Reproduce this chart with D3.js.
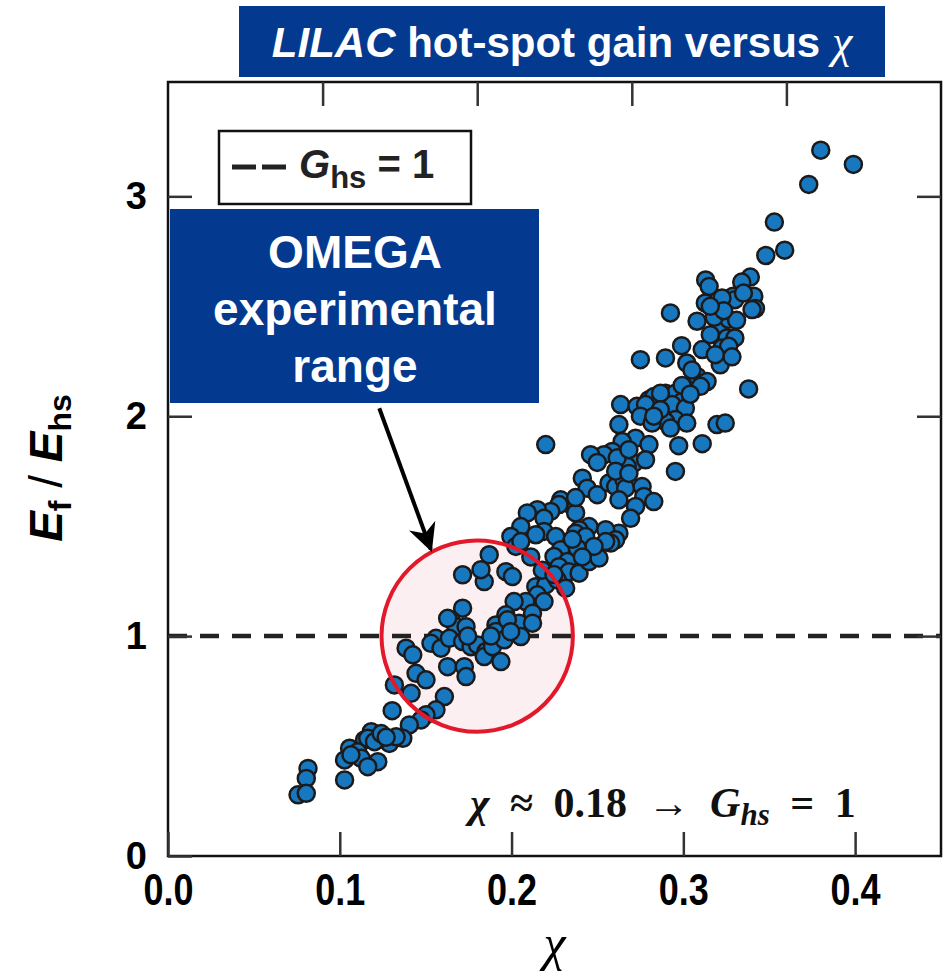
<!DOCTYPE html>
<html>
<head>
<meta charset="utf-8">
<script src="https://cdn.jsdelivr.net/npm/d3@7"></script>
<style>
  body { margin: 0; background: #fff; }
  svg { display: block; }
</style>
</head>
<body>
<div id="chart"></div>
<script>
// axis ticks
const chiTicks = [0.0, 0.1, 0.2, 0.3, 0.4];
const chiTopTicks = [0.09, 0.18, 0.27, 0.36];
const gainTicks = [0, 1, 2, 3];

// simulated LILAC shots: [chi, Ef/Ehs]
const shots = [
  [0.380,3.21],[0.399,3.145],[0.373,3.054],[0.353,2.883],[0.359,2.755],[0.348,2.731],
  [0.313,2.62],[0.315,2.59],[0.339,2.633],[0.334,2.61],[0.341,2.546],[0.342,2.49],[0.340,2.485],
  [0.329,2.546],[0.330,2.53],[0.3225,2.538],[0.3128,2.515],[0.2925,2.47],[0.308,2.432],
  [0.3206,2.417],[0.3264,2.44],[0.331,2.436],[0.3254,2.356],[0.330,2.356],[0.3157,2.371],
  [0.299,2.321],[0.311,2.303],[0.3225,2.31],[0.3264,2.318],[0.2896,2.265],[0.302,2.242],[0.275,2.257],
  [0.3215,2.234],[0.308,2.181],[0.3138,2.158],[0.310,2.136],[0.338,2.124],
  [0.2896,2.105],[0.2925,2.09],[0.2954,2.105],[0.2993,2.067],[0.2935,2.053],[0.3012,2.037],
  [0.276,2.045],[0.280,2.075],[0.283,2.09],[0.2954,1.985],[0.302,1.969],[0.2896,1.976],
  [0.3196,1.962],[0.3244,1.969],
  [0.2867,2.105],[0.2635,2.053],[0.273,2.045],[0.278,2.053],[0.275,2.0],[0.2818,1.969],[0.2625,1.962],
  [0.2925,1.946],[0.2973,1.866],[0.311,1.875],[0.2199,1.871],[0.2722,1.9],[0.280,1.871],[0.2644,1.885],
  [0.2586,1.84],[0.2538,1.825],[0.246,1.825],[0.2712,1.787],[0.2673,1.772],[0.278,1.802],[0.2954,1.749],
  [0.2412,1.718],[0.244,1.673],[0.2499,1.643],[0.2567,1.696],[0.2606,1.68],[0.2654,1.711],[0.2664,1.673],
  [0.2625,1.62],[0.276,1.68],[0.277,1.635],[0.2828,1.612],[0.2722,1.59],
  [0.2344,1.598],[0.2286,1.62],[0.2373,1.56],[0.2276,1.598],[0.2228,1.567],[0.215,1.575],[0.2092,1.56],[0.2189,1.536],
  [0.2693,1.536],[0.2625,1.468],[0.2548,1.484],[0.2606,1.438],[0.2577,1.423],
  [0.2451,1.498],[0.2393,1.484],[0.2373,1.468],[0.2431,1.453],
  [0.2189,1.476],[0.2141,1.461],[0.2257,1.453],
  [0.2054,1.498],[0.1996,1.453],[0.2025,1.408],[0.2054,1.43],
  [0.2286,1.393],[0.2247,1.362],[0.2325,1.339],[0.2276,1.316],[0.2334,1.293],[0.2393,1.286],
  [0.2451,1.339],[0.2509,1.355],[0.2548,1.43],[0.248,1.408],
  [0.187,1.37],[0.1967,1.293],[0.2005,1.271],[0.1841,1.248],
  [0.2141,1.225],[0.2199,1.233],[0.215,1.188],[0.2189,1.157],[0.2266,1.256],[0.2315,1.218],
  [0.2083,1.157],[0.2015,1.157],[0.2122,1.104],
  [0.1967,1.097],[0.1909,1.051],[0.2044,1.059],
  [0.1822,1.302],[0.1715,1.279],
  [0.1715,1.127],[0.1648,1.074],[0.1677,1.043],[0.1735,1.043],[0.1628,1.081],
  [0.156,0.99],[0.1531,0.967],[0.1589,0.945],[0.1638,0.99],
  [0.1715,0.975],[0.1764,0.952],[0.1802,0.96],[0.1851,0.93],[0.1841,0.907],[0.1889,0.952],[0.1938,0.884],
  [0.1909,1.021],[0.1976,1.074],[0.2122,1.059],[0.2054,0.998],[0.1957,0.983],
  [0.1386,0.945],[0.1425,0.915],[0.1444,0.831],[0.1502,0.801],
  [0.1628,0.861],[0.1725,0.861],[0.1735,0.816],
  [0.1318,0.778],[0.1415,0.74],
  [0.1609,0.725],[0.156,0.665],[0.1502,0.642],[0.1305,0.661],[0.1473,0.619],[0.1405,0.596],
  [0.1367,0.535],[0.1289,0.512],[0.1221,0.528],[0.1192,0.551],[0.1144,0.528],[0.1183,0.565],
  [0.1057,0.49],[0.1028,0.437],[0.1115,0.452],[0.1221,0.429],[0.0815,0.398],
  [0.0805,0.353],[0.0757,0.278],[0.0805,0.285],[0.1028,0.346],
  [0.1105,0.474],[0.1125,0.444],[0.1163,0.406],
  [0.1163,0.535],[0.1202,0.52],[0.1241,0.557],[0.1328,0.542],
  // denser parts of the cloud
  [0.318,2.45],[0.3235,2.48],[0.3157,2.50],[0.335,2.56],[0.3283,2.27],[0.3186,2.28],[0.305,2.21],
  [0.2993,2.14],[0.304,2.10],[0.2866,2.03],[0.2828,2.00],
  [0.2615,1.811],[0.2683,1.848],[0.2499,1.79],[0.2606,1.75],[0.2683,1.74],[0.2373,1.63],
  [0.2383,1.40],[0.2412,1.36],[0.2354,1.44],[0.2179,1.30],[0.2247,1.28],[0.2112,1.36],
  [0.1880,1.00],[0.1995,1.02],[0.1745,1.00],[0.1270,0.54],[0.1065,0.46]
];

// the OMEGA window, centred where G_hs = 1
const omegaCentre = [0.18, 1.0];
const omegaRadius = 0.0557;   // in chi units
const arrowFrom = [0.123, 2.036];
const arrowTo = [0.153, 1.395];

const width = 943, height = 976;
const margin = { left: 168, top: 82, right: 2, bottom: 120 };
const blue = "#033a8f";
const sans = "'Liberation Sans', Arial, sans-serif";

const svg = d3.select("#chart").append("svg")
    .attr("width", width)
    .attr("height", height)
    .style("font-family", sans);

const x = d3.scaleLinear().domain([0, 0.45]).range([margin.left, width - margin.right]);
const y = d3.scaleLinear().domain([0, 3.52]).range([height - margin.bottom, margin.top]);

// title banner
svg.append("rect")
    .attr("x", 239).attr("y", 6).attr("width", 646).attr("height", 71)
    .attr("fill", blue);
let title = svg.append("text")
    .attr("x", 562).attr("y", 57)
    .attr("text-anchor", "middle")
    .attr("fill", "#fff")
    .attr("font-size", 42)
    .attr("font-weight", "bold");
title.append("tspan").attr("font-style", "italic").text("LILAC");
title.append("tspan").text(" hot-spot gain versus ");
title.append("tspan").attr("font-style", "italic").attr("font-weight", "normal")
    .attr("font-size", 46)
    .attr("font-family", "'Liberation Serif', serif").text("χ");

// OMEGA circle fill
const cx = x(omegaCentre[0]), cy = y(omegaCentre[1]);
const r = x(omegaCentre[0] + omegaRadius) - cx;
svg.append("circle")
    .attr("cx", cx).attr("cy", cy).attr("r", r)
    .attr("fill", "#fbeff2");

// G_hs = 1 reference line
svg.append("line")
    .attr("x1", x(0)).attr("x2", x(0.45))
    .attr("y1", y(1)).attr("y2", y(1))
    .attr("stroke", "#222")
    .attr("stroke-width", 4.5)
    .attr("stroke-dasharray", "19,13");

// the points
svg.append("g")
    .selectAll("circle")
    .data(shots)
    .join("circle")
    .attr("cx", d => x(d[0]))
    .attr("cy", d => y(d[1]))
    .attr("r", 8.5)
    .attr("fill", "#1878bf")
    .attr("stroke", "#1c1a1a")
    .attr("stroke-width", 2.5);

// circle outline over the points
svg.append("circle")
    .attr("cx", cx).attr("cy", cy).attr("r", r)
    .attr("fill", "none")
    .attr("stroke", "#e3192b")
    .attr("stroke-width", 4);

// frame
svg.append("rect")
    .attr("x", x(0)).attr("y", y(3.52))
    .attr("width", x(0.45) - x(0)).attr("height", y(0) - y(3.52))
    .attr("fill", "none")
    .attr("stroke", "#111")
    .attr("stroke-width", 2.5);

// axes with inward ticks
const tickLen = 24;
const xAxis = svg.append("g")
    .attr("transform", `translate(0,${y(0)})`)
    .call(d3.axisBottom(x).tickValues(chiTicks).tickSizeInner(-tickLen).tickSizeOuter(0)
        .tickPadding(0).tickFormat(d3.format(".1f")));
const xTop = svg.append("g")
    .attr("transform", `translate(0,${y(3.52)})`)
    .call(d3.axisTop(x).tickValues(chiTopTicks).tickSizeInner(-tickLen).tickSizeOuter(0).tickFormat(""));
const yAxis = svg.append("g")
    .attr("transform", `translate(${x(0)},0)`)
    .call(d3.axisLeft(y).tickValues(gainTicks).tickSizeInner(-tickLen).tickSizeOuter(0)
        .tickPadding(21).tickFormat(d3.format("d")));
const yRight = svg.append("g")
    .attr("transform", `translate(${x(0.45)},0)`)
    .call(d3.axisRight(y).tickValues(gainTicks.slice(1)).tickSizeInner(-tickLen).tickSizeOuter(0).tickFormat(""));

[xAxis, xTop, yAxis, yRight].forEach(g => {
    g.select(".domain").remove();
    g.selectAll(".tick line").attr("stroke", "#333").attr("stroke-width", 2.5);
    g.selectAll(".tick text")
        .attr("fill", "#000")
        .attr("font-size", 38)
        .attr("font-weight", "bold")
        .attr("font-family", sans);
});
// chi labels are set in a narrower, taller face
xAxis.selectAll(".tick text")
    .attr("font-size", 45)
    .attr("y", 0)
    .attr("dy", 0)
    .attr("transform", "translate(0,49) scale(0.8,1)");

// axis labels
svg.append("text")
    .attr("x", (x(0) + x(0.45)) / 2).attr("y", 960)
    .attr("text-anchor", "middle")
    .attr("font-size", 50)
    .attr("font-style", "italic")
    .attr("font-family", "'Liberation Serif', serif")
    .text("χ");

let yLabel = svg.append("text")
    .attr("transform", "translate(62,468) rotate(-90)")
    .attr("text-anchor", "middle")
    .attr("font-size", 46)
    .attr("font-weight", "bold");
yLabel.append("tspan").attr("font-style", "italic").text("E");
yLabel.append("tspan").attr("font-size", 32).attr("dy", 9).text("f");
yLabel.append("tspan").attr("font-weight", "normal").attr("dy", -9).text(" / ");
yLabel.append("tspan").attr("font-style", "italic").text("E");
yLabel.append("tspan").attr("font-size", 32).attr("dy", 9).text("hs");

// legend box
svg.append("rect")
    .attr("x", 219).attr("y", 131).attr("width", 252).attr("height", 73)
    .attr("fill", "#fff").attr("stroke", "#111").attr("stroke-width", 2.5);
svg.append("line")
    .attr("x1", 232).attr("x2", 286).attr("y1", 167).attr("y2", 167)
    .attr("stroke", "#222").attr("stroke-width", 5)
    .attr("stroke-dasharray", "24,6");
let leg = svg.append("text")
    .attr("x", 299).attr("y", 178)
    .attr("font-size", 40)
    .attr("font-weight", "bold")
    .attr("fill", "#222");
leg.append("tspan").attr("font-style", "italic").text("G");
leg.append("tspan").attr("font-size", 31).attr("dy", 10).text("hs");
leg.append("tspan").attr("dy", -10).text(" = 1");

// OMEGA box
svg.append("rect")
    .attr("x", 170).attr("y", 209).attr("width", 369).attr("height", 194)
    .attr("fill", blue);
svg.append("text")
    .attr("x", 355).attr("y", 268)
    .attr("text-anchor", "middle")
    .attr("fill", "#fff")
    .attr("font-size", 46)
    .attr("font-weight", "bold")
    .selectAll("tspan")
    .data(["OMEGA", "experimental", "range"])
    .join("tspan")
    .attr("x", 355)
    .attr("dy", (d, i) => i === 0 ? 0 : 57)
    .text(d => d);

// arrow
svg.append("defs").append("marker")
    .attr("id", "head")
    .attr("viewBox", "0 0 10 10")
    .attr("refX", 9).attr("refY", 5)
    .attr("markerWidth", 7).attr("markerHeight", 7)
    .attr("markerUnits", "strokeWidth")
    .attr("orient", "auto")
    .append("path")
    .attr("d", "M0,0 L10,5 L0,10 L3,5 Z")
    .attr("fill", "#000");
svg.append("line")
    .attr("x1", x(arrowFrom[0])).attr("y1", y(arrowFrom[1]))
    .attr("x2", x(arrowTo[0])).attr("y2", y(arrowTo[1]))
    .attr("stroke", "#000")
    .attr("stroke-width", 4)
    .attr("marker-end", "url(#head)");

// annotation
let note = svg.append("text")
    .attr("x", 470).attr("y", 817)
    .attr("font-size", 42)
    .attr("font-weight", "bold")
    .attr("font-family", "'Liberation Serif', serif")
    .attr("word-spacing", 10)
    .attr("fill", "#111");
note.append("tspan").attr("font-style", "italic").text("χ");
note.append("tspan").text(" ≈ 0.18 → ");
note.append("tspan").attr("font-style", "italic").text("G");
note.append("tspan").attr("font-style", "italic").attr("font-size", 31).attr("dy", 8).text("hs");
note.append("tspan").attr("dy", -8).text(" = 1");
</script>
</body>
</html>
